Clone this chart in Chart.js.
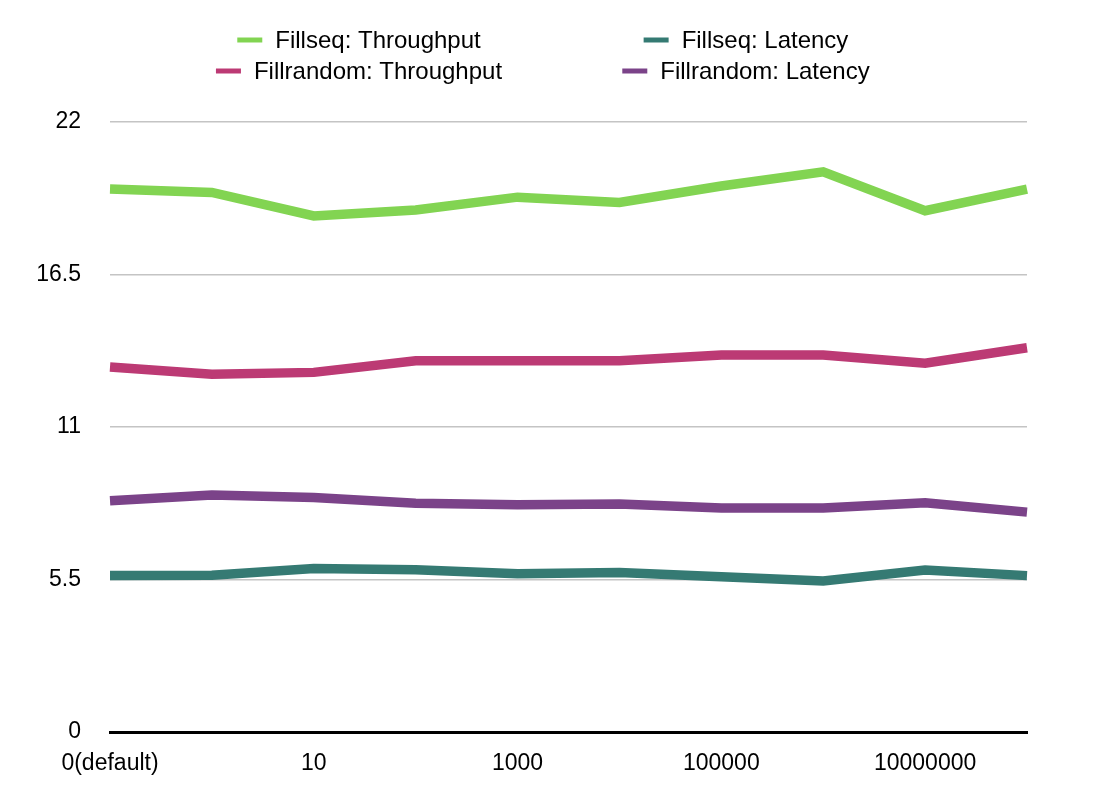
<!DOCTYPE html>
<html>
<head>
<meta charset="utf-8">
<script src="https://cdn.jsdelivr.net/npm/chart.js@4.4.1/dist/chart.umd.min.js"></script>
<style>
  body { margin: 0; background: #fff; }
  canvas { display: block; }
</style>
</head>
<body>
<canvas id="chart" width="1096" height="802"></canvas>
<script>
const categories = ['0(default)', '1', '10', '100', '1000', '10000', '100000', '1000000', '10000000', '100000000']
const fillseqThroughput = [19.58, 19.46, 18.61, 18.83, 19.29, 19.10, 19.69, 20.20, 18.80, 19.58]
const fillseqLatency = [5.64, 5.65, 5.90, 5.85, 5.71, 5.75, 5.60, 5.45, 5.84, 5.64]
const fillrandomThroughput = [13.16, 12.90, 12.97, 13.39, 13.39, 13.39, 13.60, 13.60, 13.30, 13.86]
const fillrandomLatency = [8.34, 8.55, 8.46, 8.25, 8.20, 8.22, 8.08, 8.08, 8.27, 7.93]
const yTicks = [0, 5.5, 11, 16.5, 22]

const FONT = '"Liberation Sans", Arial, sans-serif'

// legend laid out as a 2x2 grid like the original
const gridLegend = {
    id: 'gridLegend',
    afterDraw(chart){
        const ctx = chart.ctx
        const cols = [359, 746]
        const rows = [40, 71]
        ctx.save()
        ctx.font = '24px ' + FONT
        ctx.textBaseline = 'middle'
        chart.data.datasets.forEach((ds, i) => {
            const col = i % 2, row = Math.floor(i / 2)
            const tw = ctx.measureText(ds.label).width
            const x0 = cols[col] - (25 + 13 + tw) / 2
            const y = rows[row]
            ctx.strokeStyle = ds.borderColor
            ctx.lineWidth = 5
            ctx.beginPath()
            ctx.moveTo(x0, y)
            ctx.lineTo(x0 + 25, y)
            ctx.stroke()
            ctx.fillStyle = '#000'
            ctx.fillText(ds.label, x0 + 38, y + 1)
        })
        ctx.restore()
    }
}

function line(label, data, color){
    return {
        label: label,
        data: data,
        borderColor: color,
        backgroundColor: color,
        borderWidth: 9.5,
        pointRadius: 0,
        tension: 0,
        fill: false
    }
}

new Chart(document.getElementById('chart'), {
    type: 'line',
    data: {
        labels: categories,
        datasets: [
            line('Fillseq: Throughput', fillseqThroughput, 'rgb(130, 212, 82)'),
            line('Fillseq: Latency', fillseqLatency, 'rgb(53, 122, 115)'),
            line('Fillrandom: Throughput', fillrandomThroughput, 'rgb(188, 58, 116)'),
            line('Fillrandom: Latency', fillrandomLatency, 'rgb(123, 67, 137)')
        ]
    },
    options: {
        responsive: false,
        animation: false,
        layout: { padding: { top: 122, right: 69, left: 0, bottom: 0 } },
        plugins: {
            legend: { display: false },
            tooltip: { enabled: false }
        },
        scales: {
            x: {
                type: 'category',
                offset: false,
                grid: { display: false, drawTicks: false },
                border: { display: true, color: '#000', width: 3 },
                ticks: {
                    autoSkip: false,
                    maxRotation: 0,
                    padding: 18,
                    color: '#000',
                    font: { family: FONT, size: 23 },
                    callback: (v, i) => i % 2 === 0 ? categories[i] : ''
                },
                afterFit: s => { s.height = 70 }
            },
            y: {
                min: 0,
                max: 22,
                afterBuildTicks: s => { s.ticks = yTicks.map(v => ({ value: v })) },
                grid: {
                    drawTicks: false,
                    color: c => c.tick && c.tick.value === 0 ? 'rgba(0,0,0,0)' : '#c4c4c4',
                    lineWidth: 1.5
                },
                border: { display: false },
                ticks: {
                    padding: 29,
                    color: '#000',
                    font: { family: FONT, size: 23 }
                },
                afterFit: s => { s.width = 110 }
            }
        }
    },
    plugins: [gridLegend]
})
</script>
</body>
</html>
